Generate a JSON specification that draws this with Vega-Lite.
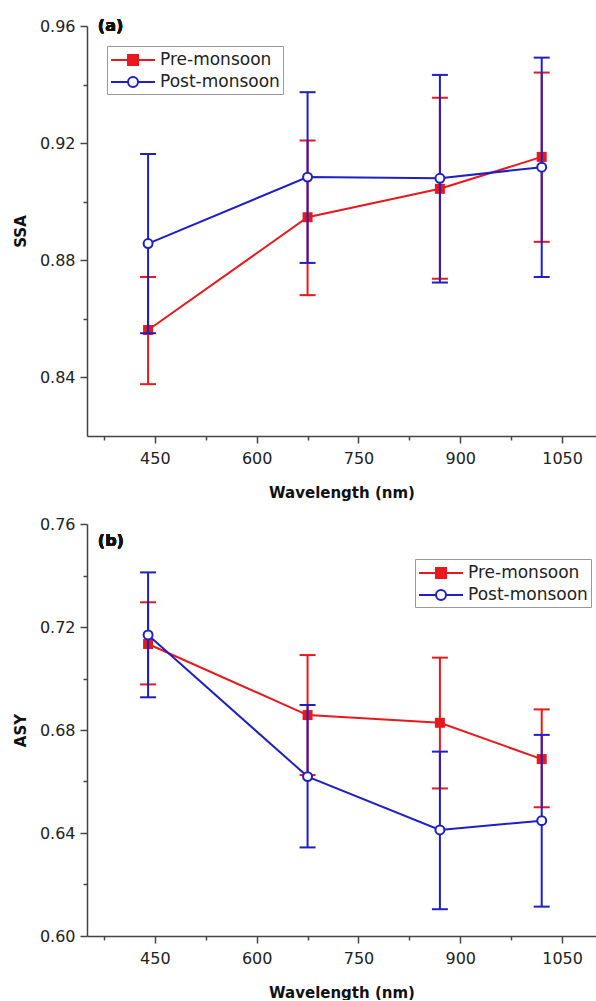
{
  "$schema": "https://vega.github.io/schema/vega-lite/v6.json",
  "padding": {"left": 13, "top": 18, "right": 0, "bottom": 0},
  "spacing": 16,
  "datasets": {
    "ssa": [
      {"wl": 440, "series": "Pre-monsoon", "v": 0.8562, "lo": 0.8377, "hi": 0.8743},
      {"wl": 675, "series": "Pre-monsoon", "v": 0.8947, "lo": 0.8681, "hi": 0.9209},
      {"wl": 870, "series": "Pre-monsoon", "v": 0.9044, "lo": 0.8737, "hi": 0.9355},
      {"wl": 1020, "series": "Pre-monsoon", "v": 0.9153, "lo": 0.8863, "hi": 0.9441},
      {"wl": 440, "series": "Post-monsoon", "v": 0.8857, "lo": 0.8551, "hi": 0.9163},
      {"wl": 675, "series": "Post-monsoon", "v": 0.9084, "lo": 0.8791, "hi": 0.9374},
      {"wl": 870, "series": "Post-monsoon", "v": 0.9080, "lo": 0.8724, "hi": 0.9433},
      {"wl": 1020, "series": "Post-monsoon", "v": 0.9118, "lo": 0.8743, "hi": 0.9492}
    ],
    "asy": [
      {"wl": 440, "series": "Pre-monsoon", "v": 0.7134, "lo": 0.6977, "hi": 0.7296},
      {"wl": 675, "series": "Pre-monsoon", "v": 0.6858, "lo": 0.6625, "hi": 0.7091},
      {"wl": 870, "series": "Pre-monsoon", "v": 0.6828, "lo": 0.6573, "hi": 0.7081},
      {"wl": 1020, "series": "Pre-monsoon", "v": 0.6687, "lo": 0.6500, "hi": 0.6880},
      {"wl": 440, "series": "Post-monsoon", "v": 0.7169, "lo": 0.6927, "hi": 0.7412},
      {"wl": 675, "series": "Post-monsoon", "v": 0.6619, "lo": 0.6344, "hi": 0.6897},
      {"wl": 870, "series": "Post-monsoon", "v": 0.6412, "lo": 0.6104, "hi": 0.6716},
      {"wl": 1020, "series": "Post-monsoon", "v": 0.6448, "lo": 0.6114, "hi": 0.6781}
    ]
  },
  "resolve": {"scale": {"color": "independent"}, "legend": {"color": "independent"}},
  "vconcat": [
    {
      "width": 509,
      "height": 410,
      "data": {"name": "ssa"},
      "encoding": {
        "x": {"field": "wl", "type": "quantitative", "title": "Wavelength (nm)",
          "scale": {"domain": [350, 1100], "nice": false, "zero": false},
          "axis": {"values": [375, 450, 525, 600, 675, 750, 825, 900, 975, 1050], "format": "d",
            "labelExpr": "datum.value % 150 == 0 ? datum.label : ''",
            "tickSize": {"condition": {"test": "datum.value % 150 == 0", "value": 7}, "value": 4},
            "labelPadding": 7, "titlePadding": 19, "labelOverlap": false, "labelFlush": false}}
      },
      "layer": [
        {
          "transform": [{"filter": "datum.series == 'Pre-monsoon'"}],
          "mark": {"type": "rule", "color": "#e8191c", "strokeWidth": 2},
          "encoding": {
            "y": {"field": "lo", "type": "quantitative", "title": "SSA", "scale": {"domain": [0.82, 0.96], "nice": false, "zero": false},
              "axis": {"values": [0.84, 0.86, 0.88, 0.9, 0.92, 0.94, 0.96], "format": ".2f",
                "labelExpr": "round(datum.value*100) % 4 == 0 ? datum.label : ''",
                "tickSize": {"condition": {"test": "round(datum.value*100) % 4 == 0", "value": 7}, "value": 4},
                "labelPadding": 5, "titlePadding": 11, "labelOverlap": false}},
            "y2": {"field": "hi"}
          }
        },
        {
          "transform": [{"filter": "datum.series == 'Pre-monsoon'"}],
          "mark": {"type": "tick", "orient": "horizontal", "size": 16, "thickness": 2, "color": "#e8191c", "opacity": 1},
          "encoding": {"y": {"field": "lo", "type": "quantitative", "title": "SSA"}}
        },
        {
          "transform": [{"filter": "datum.series == 'Pre-monsoon'"}],
          "mark": {"type": "tick", "orient": "horizontal", "size": 16, "thickness": 2, "color": "#e8191c", "opacity": 1},
          "encoding": {"y": {"field": "hi", "type": "quantitative", "title": "SSA"}}
        },
        {
          "transform": [{"filter": "datum.series == 'Pre-monsoon'"}],
          "mark": {"type": "line", "strokeWidth": 2},
          "encoding": {
            "y": {"field": "v", "type": "quantitative", "title": "SSA"},
            "color": {"field": "series", "type": "nominal",
              "scale": {"domain": ["Pre-monsoon", "Post-monsoon"], "range": ["#e8191c", "#1f1fc4"]},
              "legend": {"title": null, "orient": "top-left", "offset": 20, "strokeColor": "#999", "fillColor": "white",
                "padding": 3, "labelFontSize": 17, "labelFont": "DejaVu Sans", "labelColor": "#222",
                "symbolSize": 400, "symbolStrokeWidth": 2, "rowPadding": 2, "symbolOffset": 12, "labelOffset": 16,
                "encode": {"symbols": {"update": {
                  "shape": {"signal": "datum.value === 'Pre-monsoon' ? 'M-2.2,0H2.2M-0.5,-0.5H0.5V0.5H-0.5Z' : 'M-2.2,0H-0.5M0.5,0H2.2M-0.5,0A0.5,0.5,0,1,0,0.5,0A0.5,0.5,0,1,0,-0.5,0Z'"},
                  "fill": {"signal": "datum.value === 'Pre-monsoon' ? '#e8191c' : 'white'"}}}}}
            }
          }
        },
        {
          "transform": [{"filter": "datum.series == 'Pre-monsoon'"}],
          "mark": {"type": "point", "shape": "square", "filled": true, "size": 100, "color": "#e8191c", "opacity": 1},
          "encoding": {"y": {"field": "v", "type": "quantitative", "title": "SSA"}}
        },
        {
          "transform": [{"filter": "datum.series == 'Post-monsoon'"}],
          "mark": {"type": "rule", "color": "#1f1fc4", "strokeWidth": 2},
          "encoding": {
            "y": {"field": "lo", "type": "quantitative", "title": "SSA"},
            "y2": {"field": "hi"}
          }
        },
        {
          "transform": [{"filter": "datum.series == 'Post-monsoon'"}],
          "mark": {"type": "tick", "orient": "horizontal", "size": 16, "thickness": 2, "color": "#1f1fc4", "opacity": 1},
          "encoding": {"y": {"field": "lo", "type": "quantitative", "title": "SSA"}}
        },
        {
          "transform": [{"filter": "datum.series == 'Post-monsoon'"}],
          "mark": {"type": "tick", "orient": "horizontal", "size": 16, "thickness": 2, "color": "#1f1fc4", "opacity": 1},
          "encoding": {"y": {"field": "hi", "type": "quantitative", "title": "SSA"}}
        },
        {
          "transform": [{"filter": "datum.series == 'Post-monsoon'"}],
          "mark": {"type": "line", "strokeWidth": 2},
          "encoding": {
            "y": {"field": "v", "type": "quantitative", "title": "SSA"},
            "color": {"field": "series", "type": "nominal"}
          }
        },
        {
          "transform": [{"filter": "datum.series == 'Post-monsoon'"}],
          "mark": {"type": "point", "shape": "circle", "filled": true, "size": 80, "fill": "white", "stroke": "#1f1fc4", "strokeWidth": 2, "opacity": 1},
          "encoding": {"y": {"field": "v", "type": "quantitative", "title": "SSA"}}
        },
        {
          "mark": {"type": "text", "text": "(a)", "font": "DejaVu Sans", "fontWeight": "bold", "fontSize": 16, "align": "left", "baseline": "middle", "color": "#111"},
          "encoding": {"x": {"datum": 366}, "y": {"datum": 0.96}}
        }
      ]
    },
    {
      "width": 509,
      "height": 412,
      "data": {"name": "asy"},
      "encoding": {
        "x": {"field": "wl", "type": "quantitative", "title": "Wavelength (nm)",
          "scale": {"domain": [350, 1100], "nice": false, "zero": false},
          "axis": {"values": [375, 450, 525, 600, 675, 750, 825, 900, 975, 1050], "format": "d",
            "labelExpr": "datum.value % 150 == 0 ? datum.label : ''",
            "tickSize": {"condition": {"test": "datum.value % 150 == 0", "value": 7}, "value": 4},
            "labelPadding": 7, "titlePadding": 19, "labelOverlap": false, "labelFlush": false}}
      },
      "layer": [
        {
          "transform": [{"filter": "datum.series == 'Pre-monsoon'"}],
          "mark": {"type": "rule", "color": "#e8191c", "strokeWidth": 2},
          "encoding": {
            "y": {"field": "lo", "type": "quantitative", "title": "ASY", "scale": {"domain": [0.6, 0.76], "nice": false, "zero": false},
              "axis": {"values": [0.6, 0.62, 0.64, 0.66, 0.68, 0.7, 0.72, 0.74, 0.76], "format": ".2f",
                "labelExpr": "round(datum.value*100) % 4 == 0 ? datum.label : ''",
                "tickSize": {"condition": {"test": "round(datum.value*100) % 4 == 0", "value": 7}, "value": 4},
                "labelPadding": 5, "titlePadding": 11, "labelOverlap": false}},
            "y2": {"field": "hi"}
          }
        },
        {
          "transform": [{"filter": "datum.series == 'Pre-monsoon'"}],
          "mark": {"type": "tick", "orient": "horizontal", "size": 16, "thickness": 2, "color": "#e8191c", "opacity": 1},
          "encoding": {"y": {"field": "lo", "type": "quantitative", "title": "ASY"}}
        },
        {
          "transform": [{"filter": "datum.series == 'Pre-monsoon'"}],
          "mark": {"type": "tick", "orient": "horizontal", "size": 16, "thickness": 2, "color": "#e8191c", "opacity": 1},
          "encoding": {"y": {"field": "hi", "type": "quantitative", "title": "ASY"}}
        },
        {
          "transform": [{"filter": "datum.series == 'Pre-monsoon'"}],
          "mark": {"type": "line", "strokeWidth": 2},
          "encoding": {
            "y": {"field": "v", "type": "quantitative", "title": "ASY"},
            "color": {"field": "series", "type": "nominal",
              "scale": {"domain": ["Pre-monsoon", "Post-monsoon"], "range": ["#e8191c", "#1f1fc4"]},
              "legend": {"title": null, "orient": "none", "legendX": 328, "legendY": 35, "strokeColor": "#999", "fillColor": "white",
                "padding": 3, "labelFontSize": 17, "labelFont": "DejaVu Sans", "labelColor": "#222",
                "symbolSize": 400, "symbolStrokeWidth": 2, "rowPadding": 2, "symbolOffset": 12, "labelOffset": 16,
                "encode": {"symbols": {"update": {
                  "shape": {"signal": "datum.value === 'Pre-monsoon' ? 'M-2.2,0H2.2M-0.5,-0.5H0.5V0.5H-0.5Z' : 'M-2.2,0H-0.5M0.5,0H2.2M-0.5,0A0.5,0.5,0,1,0,0.5,0A0.5,0.5,0,1,0,-0.5,0Z'"},
                  "fill": {"signal": "datum.value === 'Pre-monsoon' ? '#e8191c' : 'white'"}}}}}
            }
          }
        },
        {
          "transform": [{"filter": "datum.series == 'Pre-monsoon'"}],
          "mark": {"type": "point", "shape": "square", "filled": true, "size": 100, "color": "#e8191c", "opacity": 1},
          "encoding": {"y": {"field": "v", "type": "quantitative", "title": "ASY"}}
        },
        {
          "transform": [{"filter": "datum.series == 'Post-monsoon'"}],
          "mark": {"type": "rule", "color": "#1f1fc4", "strokeWidth": 2},
          "encoding": {
            "y": {"field": "lo", "type": "quantitative", "title": "ASY"},
            "y2": {"field": "hi"}
          }
        },
        {
          "transform": [{"filter": "datum.series == 'Post-monsoon'"}],
          "mark": {"type": "tick", "orient": "horizontal", "size": 16, "thickness": 2, "color": "#1f1fc4", "opacity": 1},
          "encoding": {"y": {"field": "lo", "type": "quantitative", "title": "ASY"}}
        },
        {
          "transform": [{"filter": "datum.series == 'Post-monsoon'"}],
          "mark": {"type": "tick", "orient": "horizontal", "size": 16, "thickness": 2, "color": "#1f1fc4", "opacity": 1},
          "encoding": {"y": {"field": "hi", "type": "quantitative", "title": "ASY"}}
        },
        {
          "transform": [{"filter": "datum.series == 'Post-monsoon'"}],
          "mark": {"type": "line", "strokeWidth": 2},
          "encoding": {
            "y": {"field": "v", "type": "quantitative", "title": "ASY"},
            "color": {"field": "series", "type": "nominal"}
          }
        },
        {
          "transform": [{"filter": "datum.series == 'Post-monsoon'"}],
          "mark": {"type": "point", "shape": "circle", "filled": true, "size": 80, "fill": "white", "stroke": "#1f1fc4", "strokeWidth": 2, "opacity": 1},
          "encoding": {"y": {"field": "v", "type": "quantitative", "title": "ASY"}}
        },
        {
          "mark": {"type": "text", "text": "(b)", "font": "DejaVu Sans", "fontWeight": "bold", "fontSize": 16, "align": "left", "baseline": "middle", "color": "#111"},
          "encoding": {"x": {"datum": 366}, "y": {"datum": 0.7535}}
        }
      ]
    }
  ],
  "config": {
    "view": {"stroke": null},
    "font": "DejaVu Sans",
    "axis": {"grid": false, "domainColor": "#444", "tickColor": "#444", "domainWidth": 1.5, "tickWidth": 1.5,
      "labelFont": "DejaVu Sans", "labelFontSize": 16, "labelColor": "#222",
      "titleFont": "DejaVu Sans", "titleFontSize": 15, "titleFontWeight": "bold", "titleColor": "#111"}
  }
}
